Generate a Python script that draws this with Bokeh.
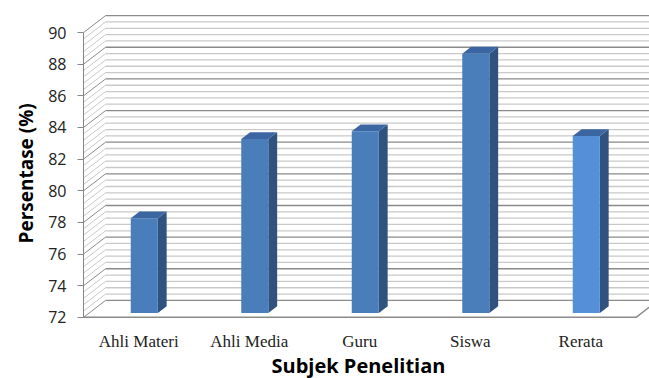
import numpy as np
from bokeh.plotting import figure
from bokeh.models import Range1d, FixedTicker, Title
from bokeh.embed import file_html
from bokeh.resources import INLINE

# ---- data ----
categories = ["Ahli Materi", "Ahli Media", "Guru", "Siswa", "Rerata"]
values = [78.0, 83.0, 83.5, 88.4, 83.2]
y_ticks = [72, 74, 76, 78, 80, 82, 84, 86, 88, 90]
x_title = "Subjek Penelitian"
y_title = "Persentase (%)"

# ---- style ----
Y0, Y1 = 72, 90
DX, DY = 0.2, 1.07        # 3-D depth offset (data units)
F0, FD = 0.25, 0.40       # bar front position / bar depth (fraction of depth)
W = 0.245                 # bar width (category units)
front_cols = ["#4a7ebb", "#4a7ebb", "#4a7ebb", "#4a7ebb", "#558fd8"]
side_col = "#30527f"
top_col = "#3b66a2"
minor_col = "#c9c9c9"
major_col = "#8a8a8a"

n = len(categories)
XMAX = 5.122

p = figure(width=649, height=378, x_range=Range1d(0, XMAX), y_range=Range1d(71.8, 91.52),
           output_backend="svg", toolbar_location=None,
           min_border_left=83, min_border_right=0, min_border_top=8, min_border_bottom=58)
p.outline_line_color = None
p.xgrid.grid_line_color = None
p.ygrid.grid_line_color = None
p.background_fill_color = "white"

# ---- walls: grid lines ----
minor_vals = np.arange(Y0, Y1 + 0.001, 0.4)
minor_vals = [v for v in minor_vals if abs((v - Y0) / 2 - round((v - Y0) / 2)) > 1e-6]
major_vals = y_ticks

p.multi_line(xs=[[DX, XMAX + 1] for v in minor_vals], ys=[[v + DY, v + DY] for v in minor_vals],
             line_color=minor_col, line_width=1.3)
p.multi_line(xs=[[0, DX] for v in minor_vals], ys=[[v, v + DY] for v in minor_vals],
             line_color=minor_col, line_width=1.0)
p.multi_line(xs=[[DX, XMAX + 1] for v in major_vals], ys=[[v + DY, v + DY] for v in major_vals],
             line_color=major_col, line_width=1.3)
p.multi_line(xs=[[0, DX] for v in major_vals], ys=[[v, v + DY] for v in major_vals],
             line_color=major_col, line_width=1.0)

# floor front edge
p.line(x=[0, n, n + DX], y=[Y0, Y0, Y0 + DY], line_color=major_col, line_width=1.5)

# ---- bars ----
centers = np.arange(n) + 0.5
xl = centers - W / 2 + F0 * DX
xr = centers + W / 2 + F0 * DX
yb = Y0 + F0 * DY
tops = np.array(values) + F0 * DY
ddx, ddy = FD * DX, FD * DY

side_xs = [[r, r + ddx, r + ddx, r] for r in xr]
side_ys = [[yb, yb + ddy, t + ddy, t] for t in tops]
p.patches(side_xs, side_ys, fill_color=side_col, line_color=None)

top_xs = [[l, r, r + ddx, l + ddx] for l, r in zip(xl, xr)]
top_ys = [[t, t, t + ddy, t + ddy] for t in tops]
p.patches(top_xs, top_ys, fill_color=top_col, line_color=None)

p.quad(left=xl, right=xr, bottom=yb, top=tops, fill_color=front_cols, line_color=None)

# ---- axes ----
ya = p.yaxis[0]
ya.ticker = FixedTicker(ticks=y_ticks)
ya.bounds = (Y0, Y1)
ya.axis_line_color = "#868686"
ya.major_tick_line_color = "#868686"
ya.major_tick_out = 6
ya.major_tick_in = 0
ya.minor_tick_line_color = None
ya.major_label_standoff = 11
ya.major_label_text_font = "Open Sans"
ya.major_label_text_font_size = "16px"
ya.major_label_text_color = "#222222"

xa = p.xaxis[0]
xa.ticker = FixedTicker(ticks=list(centers))
xa.major_label_overrides = {float(c): lab for c, lab in zip(centers, categories)}
xa.axis_line_color = None
xa.major_tick_line_color = None
xa.minor_tick_line_color = None
xa.major_label_standoff = 5
xa.major_label_text_font = "Liberation Serif"
xa.major_label_text_font_size = "17px"
xa.major_label_text_color = "#222222"

# ---- axis titles (as side-panel titles) ----
p.add_layout(Title(text=x_title, align="left", offset=188, standoff=-7,
                   text_font="Open Sans", text_font_style="bold", text_font_size="20px",
                   text_color="black"), "below")
p.add_layout(Title(text=y_title, align="left", offset=77, standoff=14,
                   text_font="Open Sans", text_font_style="bold", text_font_size="19px",
                   text_color="black"), "left")

open("out.html", "w").write(file_html(p, INLINE))
